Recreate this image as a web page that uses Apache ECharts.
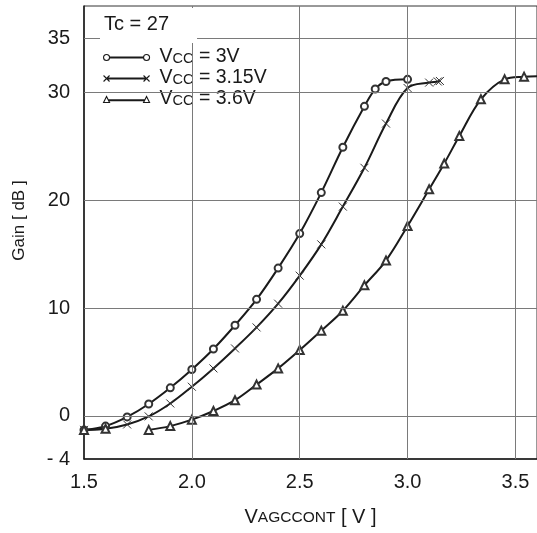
<!DOCTYPE html>
<html><head><meta charset="utf-8">
<script src="https://cdn.jsdelivr.net/npm/echarts@6/dist/echarts.min.js"></script>
<style>html,body{margin:0;padding:0;background:#fff}#c{width:537px;height:533px}</style>
</head><body><div id="c"></div>
<script>
// ---- data ----
const seriesNames = ['Vcc = 3V', 'Vcc = 3.15V', 'Vcc = 3.6V'];
const noteText = 'Tc = 27';

const vcc3V_x    = [1.5, 1.6, 1.7, 1.8, 1.9, 2.0, 2.1, 2.2, 2.3, 2.4, 2.5, 2.6, 2.7, 2.8, 2.85, 2.9, 3.0];
const vcc3V_gain = [-1.3, -0.95, -0.1, 1.1, 2.6, 4.3, 6.2, 8.4, 10.8, 13.7, 16.9, 20.7, 24.9, 28.7, 30.3, 31.0, 31.2];

const vcc315V_x    = [1.5, 1.6, 1.7, 1.8, 1.9, 2.0, 2.1, 2.2, 2.3, 2.4, 2.5, 2.6, 2.7, 2.8, 2.9, 3.0, 3.1, 3.14, 3.15];
const vcc315V_gain = [-1.3, -1.2, -0.8, -0.05, 1.15, 2.7, 4.4, 6.25, 8.2, 10.4, 13.0, 15.9, 19.4, 23.0, 27.1, 30.4, 30.9, 31.0, 31.05];

const vcc36V_x    = [1.5, 1.6, 1.7, 1.8, 1.9, 2.0, 2.1, 2.2, 2.3, 2.4, 2.5, 2.6, 2.7, 2.8, 2.9, 3.0, 3.1, 3.17, 3.24, 3.34, 3.45, 3.54, 3.62];
const vcc36V_gain = [-1.3, -1.2, null, -1.3, -0.95, -0.35, 0.45, 1.45, 2.9, 4.4, 6.1, 7.9, 9.75, 12.1, 14.4, 17.6, 21.0, 23.4, 25.95, 29.35, 31.2, 31.45, 31.5];

const xTickValues = [1.5, 2.0, 2.5, 3.0, 3.5];
const yTickValues = [-4, 0, 10, 20, 30, 35];
const yTickText   = ['- 4', '0', '10', '20', '30', '35'];
const xGridValues = [2.0, 2.5, 3.0, 3.5];
const yGridValues = [0, 10, 20, 30, 35];

// ---- chart ----
const FONT = 'Liberation Sans, Arial, Helvetica, sans-serif';
const INK = '#1a1a1a';
const zip = (xs, ys) => xs.map((x, i) => [x, ys[i]]);

const crossPath = 'path://M0,0L10,10M10,0L0,10';
const iconCircle = 'path://M0.5,3.5A3,3,0,1,0,6.5,3.5A3,3,0,1,0,0.5,3.5ZM6.5,3.1L40.5,3.1M6.5,3.9L40.5,3.9M40.5,3.5A3,3,0,1,0,46.5,3.5A3,3,0,1,0,40.5,3.5Z';
const iconCross = 'path://M0.5,0.5L6.5,6.5M0.5,6.5L6.5,0.5M3.5,3.1L43.5,3.1M3.5,3.9L43.5,3.9M40.5,0.5L46.5,6.5M40.5,6.5L46.5,0.5';
const iconTri = 'path://M3.5,0.5L6.5,6.5L0.5,6.5ZM5.2,3.9L41.8,3.9M5.4,4.6L41.6,4.6M43.5,0.5L46.5,6.5L40.5,6.5Z';
const icons = [iconCircle, iconCross, iconTri];

const chart = echarts.init(document.getElementById('c'), null, {renderer: 'canvas'});

const gridLineStyle = {color: '#7a7a7a', width: 1, type: 'solid'};

chart.setOption({
  animation: false,
  backgroundColor: '#fff',
  grid: {left: 84, right: -2, top: 6, bottom: 74, show: true, borderColor: '#333', borderWidth: 1, backgroundColor: 'transparent'},
  title: {
    text: noteText, left: 100, top: 8,
    padding: [6, 28, 9, 4], backgroundColor: '#fff',
    textStyle: {fontFamily: FONT, fontSize: 20, fontWeight: 'normal', color: INK}
  },
  legend: {
    orient: 'vertical', left: 93, top: 45,
    padding: [2, 12, 7, 10], backgroundColor: '#fff',
    itemWidth: 46, itemHeight: 6, itemGap: 1,
    data: seriesNames.map((n, i) => ({
      name: n, icon: icons[i],
      itemStyle: {color: '#fff', borderColor: INK, borderWidth: 1.1}
    })),
    formatter: n => '{b|V}{s|CC}{b|' + n.replace(/^Vcc/, '') + '}',
    textStyle: {
      fontFamily: FONT, color: INK, padding: [0, 0, 0, 5],
      rich: {
        b: {fontFamily: FONT, fontSize: 19.5, color: INK, verticalAlign: 'bottom', lineHeight: 19},
        s: {fontFamily: FONT, fontSize: 14.5, color: INK, verticalAlign: 'bottom', lineHeight: 19, padding: [0, 0, 1, 0]}
      }
    }
  },
  xAxis: [{
    type: 'value', min: 1.5, max: 3.6, interval: 0.5,
    axisLine: {show: true, onZero: false, lineStyle: {color: INK, width: 1.5}},
    axisTick: {show: false},
    splitLine: {show: false},
    axisLabel: {
      margin: 13, fontFamily: FONT, fontSize: 20, color: INK, showMaxLabel: false,
      formatter: v => (xTickValues.some(t => Math.abs(t - v) < 1e-6) ? v.toFixed(1) : '')
    },
    name: '{b|V}{s|AGCCONT}{b| [ V ]}',
    nameLocation: 'middle', nameGap: 48,
    nameTextStyle: {
      rich: {
        b: {fontFamily: FONT, fontSize: 20, color: INK, verticalAlign: 'bottom', lineHeight: 20},
        s: {fontFamily: FONT, fontSize: 15.5, color: INK, verticalAlign: 'bottom', lineHeight: 20, padding: [0, 0, 1, 0]}
      }
    }
  }],
  yAxis: [{
    type: 'value', min: -4, max: 38, interval: 1,
    axisLine: {show: true, onZero: false, lineStyle: {color: INK, width: 1.5}},
    axisTick: {show: false},
    splitLine: {show: false},
    axisLabel: {
      margin: 14, fontFamily: FONT, fontSize: 20, color: INK,
      formatter: v => { const i = yTickValues.findIndex(t => Math.abs(t - v) < 1e-6); return i >= 0 ? yTickText[i] : ''; }
    },
    name: 'Gain [ dB ]', nameLocation: 'middle', nameGap: 56, nameRotate: 90,
    nameTextStyle: {fontFamily: FONT, fontSize: 17, color: INK, padding: [0, 0, 0, 24]}
  }],
  series: [
    {
      name: 'grid', type: 'line', data: [], z: 1, silent: true,
      markLine: {
        silent: true, symbol: ['none', 'none'], label: {show: false},
        lineStyle: gridLineStyle, animation: false,
        data: xGridValues.map(v => ({xAxis: v})).concat(yGridValues.map(v => ({yAxis: v})))
      }
    },
    {
      name: seriesNames[0], type: 'line', smooth: 0.35, z: 3,
      data: zip(vcc3V_x, vcc3V_gain),
      symbol: 'emptyCircle', symbolSize: 7, showAllSymbol: true,
      lineStyle: {color: INK, width: 2},
      itemStyle: {color: '#333', borderWidth: 0.8}
    },
    {
      name: seriesNames[1], type: 'line', smooth: 0.35, z: 3,
      data: zip(vcc315V_x, vcc315V_gain),
      symbol: crossPath, symbolSize: 8, showAllSymbol: true,
      lineStyle: {color: INK, width: 2},
      itemStyle: {color: '#fff', borderColor: '#333', borderWidth: 1}
    },
    {
      name: seriesNames[2], type: 'line', smooth: 0.35, z: 3,
      data: zip(vcc36V_x, vcc36V_gain),
      symbol: 'emptyTriangle', symbolSize: 8, showAllSymbol: true,
      connectNulls: false,
      lineStyle: {color: INK, width: 2},
      itemStyle: {color: '#333', borderWidth: 0.8}
    }
  ]
});
</script>
</body></html>
